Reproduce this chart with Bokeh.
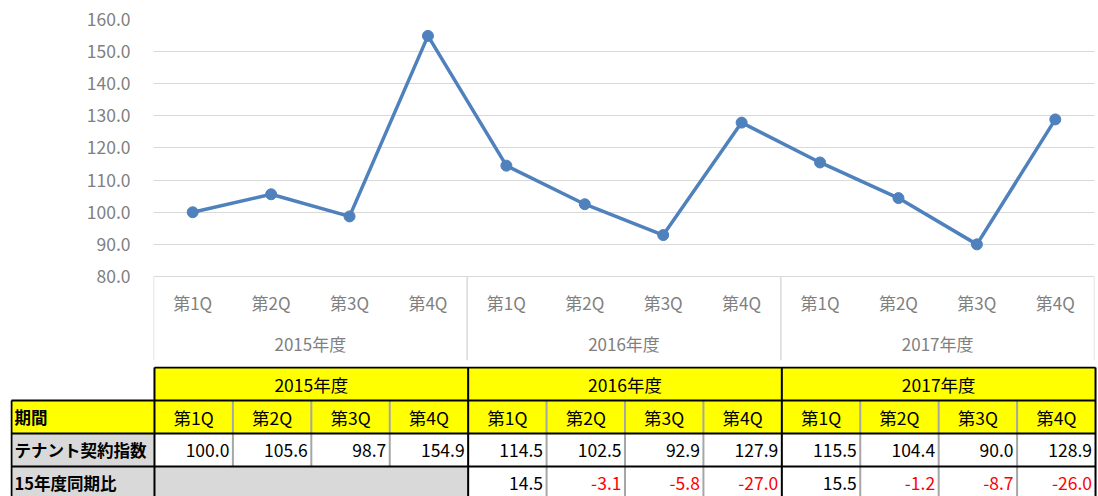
from bokeh.plotting import figure
from bokeh.models import FactorRange, Range1d, FixedTicker, NumeralTickFormatter
from bokeh.layouts import column
from bokeh.embed import file_html
from bokeh.resources import INLINE
from bokeh.core.properties import value

# ---------------- data ----------------
years = ["2015年度", "2016年度", "2017年度"]
quarters = ["第1Q", "第2Q", "第3Q", "第4Q"]
tenant_index = [100.0, 105.6, 98.7, 154.9, 114.5, 102.5, 92.9, 127.9, 115.5, 104.4, 90.0, 128.9]
vs_2015 = [None, None, None, None, 14.5, -3.1, -5.8, -27.0, 15.5, -1.2, -8.7, -26.0]
y_ticks = [80, 90, 100, 110, 120, 130, 140, 150, 160]
row_labels = ["期間", "テナント契約指数", "15年度同期比"]

# ---------------- style ----------------
FONT = "Noto Sans CJK JP"
BLUE = "#4f81bd"
GRAY_TXT = "#808080"
GRID = "#d9d9d9"
YELLOW = "#ffff00"
CELL_GRAY = "#d9d9d9"

factors = [(y, q) for y in years for q in quarters]
q_labels = [q for _, q in factors]

# ---------------- line chart ----------------
y_bottom = 53.85
p = figure(
    x_range=FactorRange(*factors, group_padding=0, range_padding=0),
    y_range=Range1d(y_bottom, y_ticks[-1]),
    width=1098, height=363,
    output_backend="svg", toolbar_location=None,
    x_axis_location=None,
    min_border_left=153, min_border_right=4, min_border_top=19, min_border_bottom=3,
)
p.frame_align = False
p.outline_line_color = None
p.xgrid.visible = False

ticker = FixedTicker(ticks=y_ticks)
ax = p.yaxis[0]
ax.ticker = ticker
ax.formatter = NumeralTickFormatter(format="0.0")
ax.axis_line_color = None
ax.major_tick_line_color = None
ax.minor_tick_line_color = None
ax.major_label_standoff = 17
ax.major_label_text_font = FONT
ax.major_label_text_font_size = "17.5px"
ax.major_label_text_color = GRAY_TXT
p.ygrid.ticker = ticker
p.ygrid.grid_line_color = GRID
p.ygrid.grid_line_width = 1

# category separators (below the 80 baseline)
sep_x = [(y, quarters[0], -0.5) for y in years] + [(years[-1], quarters[-1], 0.5)]
p.segment(x0=sep_x, x1=sep_x, y0=[y_ticks[0]] * len(sep_x), y1=[y_bottom] * len(sep_x),
          line_color=GRID, line_width=1.5)

# category labels
p.text(x=factors, y=[71.9] * len(factors), text=q_labels,
       text_font=value(FONT), text_font_size="17px", text_color=GRAY_TXT,
       text_align="center", text_baseline="middle")
p.text(x=years, y=[59.1] * len(years), text=years,
       text_font=value(FONT), text_font_size="17px", text_color=GRAY_TXT,
       text_align="center", text_baseline="middle")

p.line(x=factors, y=tenant_index, line_color=BLUE, line_width=3.5)
p.scatter(x=factors, y=tenant_index, size=11, fill_color=BLUE, line_color=BLUE)

# ---------------- table ----------------
n = len(factors)
L = -1.8236
t = figure(
    x_range=Range1d(-1.836, 12.038),
    y_range=Range1d(3.909, -0.0303),
    width=1098, height=133,
    output_backend="svg", toolbar_location=None,
    x_axis_location=None, y_axis_location=None,
    min_border_left=10, min_border_right=0, min_border_top=3, min_border_bottom=0,
)
t.frame_align = False
t.outline_line_color = None
t.grid.visible = False

nq = len(quarters)
ystart = [i * nq for i in range(len(years))]
yend = [(i + 1) * nq for i in range(len(years))]

# fills
t.quad(left=ystart, right=yend, top=[0] * len(years), bottom=[1] * len(years),
       fill_color=YELLOW, line_color=None)
t.quad(left=[0], right=[n], top=[1], bottom=[2], fill_color=YELLOW, line_color=None)
t.quad(left=[L] * 3, right=[0] * 3, top=[1, 2, 3], bottom=[2, 3, 4],
       fill_color=[YELLOW, CELL_GRAY, CELL_GRAY], line_color=None)
t.quad(left=[0], right=[nq], top=[3], bottom=[4], fill_color=CELL_GRAY, line_color=None)

# thin gray column separators
gx, gy0, gy1 = [], [], []
for k in range(1, n):
    if k % nq == 0:
        continue
    gx.append(k)
    gy0.append(1)
    gy1.append(3 if k < nq else 4)
t.segment(x0=gx, x1=gx, y0=gy0, y1=gy1, line_color="#a6a6a6", line_width=2)

# black borders
hx0 = [0, L, L, L]
hx1 = [n, n, n, n]
hy = [0, 1, 2, 3]
t.segment(x0=hx0, x1=hx1, y0=hy, y1=hy, line_color="black", line_width=2)
vx = [L, 0] + yend
vy0 = [1, 0] + [0] * len(yend)
vy1 = [4] * len(vx)
t.segment(x0=vx, x1=vx, y0=vy0, y1=vy1, line_color="black", line_width=2)

# texts
t.text(x=[(a + b) / 2 for a, b in zip(ystart, yend)], y=[0.5] * len(years), text=years,
       text_font=value(FONT), text_font_size="17.5px", text_color="black",
       text_align="center", text_baseline="middle")
t.text(x=[i + 0.5 for i in range(n)], y=[1.5] * n, text=q_labels,
       text_font=value(FONT), text_font_size="17.5px", text_color="black",
       text_align="center", text_baseline="middle")
t.text(x=[L + 0.04] * len(row_labels), y=[1.5, 2.5, 3.5], text=row_labels,
       text_font=value(FONT), text_font_size="16.5px", text_font_style="bold",
       text_color="black", text_align="left", text_baseline="middle")
t.text(x=[i + 1 - 0.045 for i in range(n)], y=[2.5] * n,
       text=[f"{v:.1f}" for v in tenant_index],
       text_font=value(FONT), text_font_size="17.5px", text_color="black",
       text_align="right", text_baseline="middle")
idx = [i for i, v in enumerate(vs_2015) if v is not None]
t.text(x=[i + 1 - 0.045 for i in idx], y=[3.5] * len(idx),
       text=[f"{vs_2015[i]:.1f}" for i in idx],
       text_color=["#ff0000" if vs_2015[i] < 0 else "black" for i in idx],
       text_font=value(FONT), text_font_size="17.5px",
       text_align="right", text_baseline="middle")

layout = column(p, t, spacing=0)
open("out.html", "w").write(file_html(layout, INLINE))
